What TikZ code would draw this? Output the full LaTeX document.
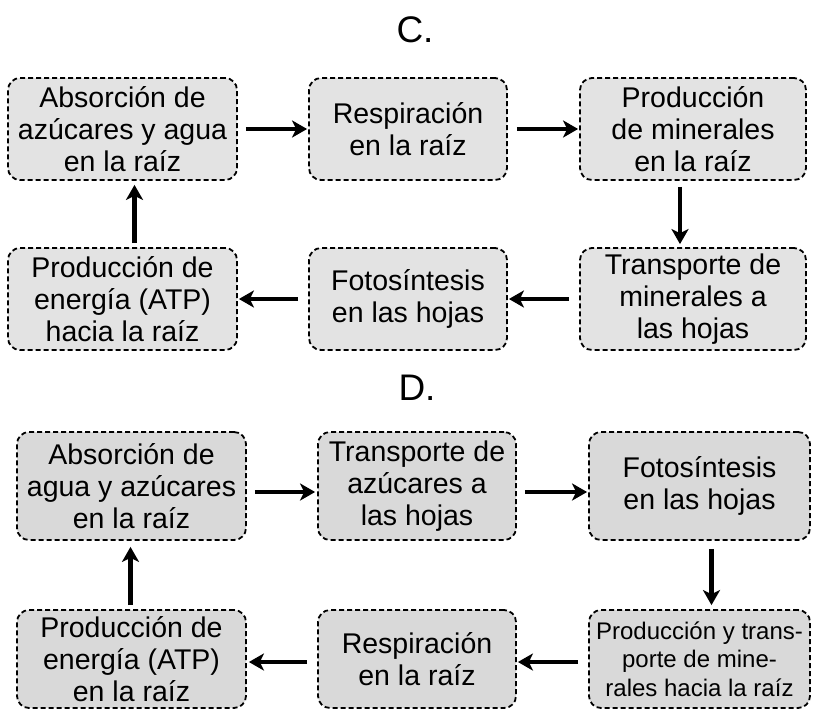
\documentclass[tikz,border=0pt]{standalone}
\usepackage{fontspec}
\setmainfont{Liberation Sans}
\usetikzlibrary{arrows.meta}
\begin{document}
\begin{tikzpicture}[x=1pt,y=-1pt,
  box/.style={draw=black, dashed, dash pattern=on 5pt off 3pt, line width=1.8pt, rounded corners=12pt,
    inner sep=0pt, align=center, font=\fontsize{28.5}{32}\selectfont},
  boxc/.style={box, fill=gray!22},
  boxd/.style={box, fill=gray!30},
  arr/.style={line width=4.5pt, -{Stealth[length=15pt,width=17pt,inset=4pt]}},
  ttl/.style={font=\fontsize{37}{40}\selectfont}]
\useasboundingbox (0,0) rectangle (813,710);
\node[ttl] (tc) at (415,30) {C.};
\node[ttl] (td) at (417,388) {D.};
% C
\node[boxc, minimum width=229pt, minimum height=102pt] (b1) at (122.5,129) {Absorción de\\azúcares y agua\\en la raíz};
\node[boxc, minimum width=198pt, minimum height=102pt] (b2) at (408,129) {Respiración\\en la raíz};
\node[boxc, minimum width=226pt, minimum height=102pt] (b3) at (693,129) {Producción\\de minerales\\en la raíz};
\node[boxc, minimum width=229pt, minimum height=102pt] (b4) at (122.5,299) {Producción de\\energía (ATP)\\hacia la raíz};
\node[boxc, minimum width=198pt, minimum height=102pt] (b5) at (408,299) {Fotosíntesis\\en las hojas};
\node[boxc, minimum width=226pt, minimum height=102pt] (b6) at (693,299) {Transporte de\\minerales a\\las hojas};
% D
\node[boxd, minimum width=229pt, minimum height=108pt] (b7) at (131.5,486) {Absorción de\\agua y azúcares\\en la raíz};
\node[boxd, minimum width=198pt, minimum height=108pt] (b8) at (417,486) {Transporte de\\azúcares a\\las hojas};
\node[boxd, minimum width=221pt, minimum height=108pt] (b9) at (699.5,486) {Fotosíntesis\\en las hojas};
\node[boxd, minimum width=229pt, minimum height=98pt] (b10) at (131.5,659) {Producción de\\energía (ATP)\\en la raíz};
\node[boxd, minimum width=198pt, minimum height=98pt] (b11) at (417,659) {Respiración\\en la raíz};
\node[boxd, minimum width=221pt, minimum height=98pt, font=\fontsize{24}{28.5}\selectfont] (b12) at (699.5,659) {Producción y trans-\\porte de mine-\\rales hacia la raíz};
% arrows C
\draw[arr, shorten <=8pt, shorten >=1pt] (b1.east) -- (b2.west);
\draw[arr, shorten <=9pt, shorten >=1pt] (b2.east) -- (b3.west);
\draw[arr, shorten <=6pt, shorten >=3pt] ([xshift=-13pt]b3.south) -- ([xshift=-13pt]b6.north);
\draw[arr, shorten <=10pt, shorten >=1pt] (b6.west) -- (b5.east);
\draw[arr, shorten <=10pt, shorten >=1pt] (b5.west) -- (b4.east);
\draw[arr, shorten <=4pt, shorten >=4pt] ([xshift=12pt]b4.north) -- ([xshift=12pt]b1.south);
% arrows D
\draw[arr, shorten <=8pt, shorten >=2pt] ([yshift=-6pt]b7.east) -- ([yshift=-6pt]b8.west);
\draw[arr, shorten <=8pt, shorten >=1pt] ([yshift=-6pt]b8.east) -- ([yshift=-6pt]b9.west);
\draw[arr, shorten <=8pt, shorten >=4pt] ([xshift=12pt]b9.south) -- ([xshift=12pt]b12.north);
\draw[arr, shorten <=10pt, shorten >=1pt] ([yshift=-3pt]b12.west) -- ([yshift=-3pt]b11.east);
\draw[arr, shorten <=10pt, shorten >=2pt] ([yshift=-3pt]b11.west) -- ([yshift=-3pt]b10.east);
\draw[arr, shorten <=4pt, shorten >=6pt] ([xshift=-1pt]b10.north) -- ([xshift=-1pt]b7.south);
\end{tikzpicture}
\end{document}
